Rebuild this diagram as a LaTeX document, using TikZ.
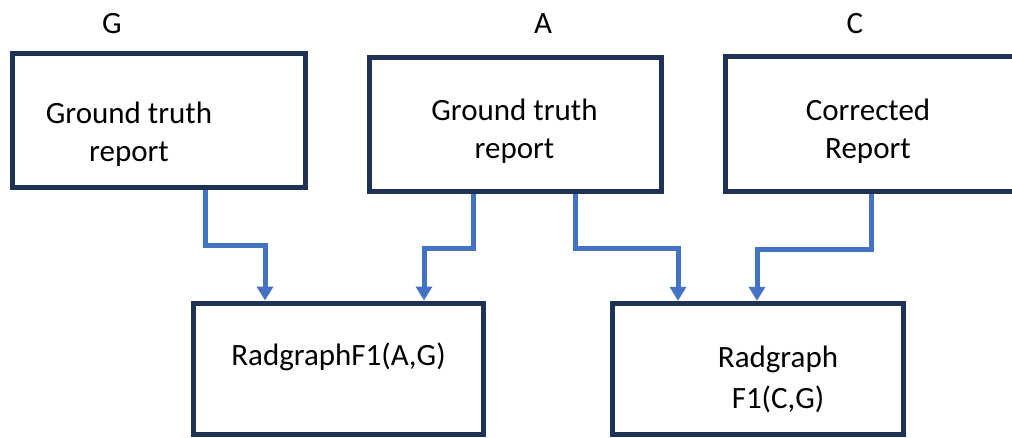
\documentclass[tikz,border=0pt]{standalone}
\usepackage{fontspec}
\setmainfont{Carlito}
\usetikzlibrary{arrows.meta}
\definecolor{boxnavy}{HTML}{1F3155}
\definecolor{flowblue}{HTML}{4472C4}
\tikzset{
  box/.style={draw=boxnavy, line width=5pt, fill=white, rectangle, inner sep=0pt},
  txt/.style={font=\fontsize{31}{38}\selectfont, align=center, inner sep=0pt, text=black},
  flow/.style={draw=flowblue, line width=5pt,
    -{Triangle[length=14pt, width=16pt]}},
}
\begin{document}
\begin{tikzpicture}[x=1pt, y=-1pt]
  \useasboundingbox (0,0) rectangle (1012,437);
  \clip (0,0) rectangle (1012,437);
  \fill[white] (0,0) rectangle (1012,437);

  % input reports
  \node[box, minimum width=293pt, minimum height=134.5pt] (G) at (159,120.25) {};
  \node[box, minimum width=291.5pt, minimum height=134pt] (A) at (515.25,124) {};
  \node[box, minimum width=291pt, minimum height=135pt] (C) at (870.5,124) {};

  % metric boxes
  \node[box, minimum width=290pt, minimum height=131.5pt] (R1) at (338.5,368.75) {};
  \node[box, minimum width=291pt, minimum height=131.2pt] (R2) at (757.5,368.9) {};

  % headings
  \node[txt, anchor=base] (labG) at (112,33) {G};
  \node[txt, anchor=base] (labA) at (543,33) {A};
  \node[txt, anchor=base] (labC) at (855,33) {C};

  % box texts
  \node[txt] (tG) at (129,134) {Ground truth\\report};
  \node[txt] (tA) at (514.5,131.5) {Ground truth\\report};
  \node[txt] (tC) at (868,131.5) {Corrected\\Report};
  \node[txt, anchor=base] (tR1) at (338.5,365) {RadgraphF1(A,G)};
  \node[txt, font=\fontsize{31}{41}\selectfont] (tR2) at (778,379) {Radgraph\\F1(C,G)};

  % connectors
  \draw[flow] (G.south -| 205,0) -- ++(0,55) -| (R1.north -| 265,0);
  \draw[flow] (A.south -| 473,0) -- ++(0,55) -| (R1.north -| 424,0);
  \draw[flow] (A.south -| 575,0) -- ++(0,55) -| (R2.north -| 678,0);
  \draw[flow] (C.south -| 871,0) -- ++(0,55) -| (R2.north -| 757,0);
\end{tikzpicture}
\end{document}
